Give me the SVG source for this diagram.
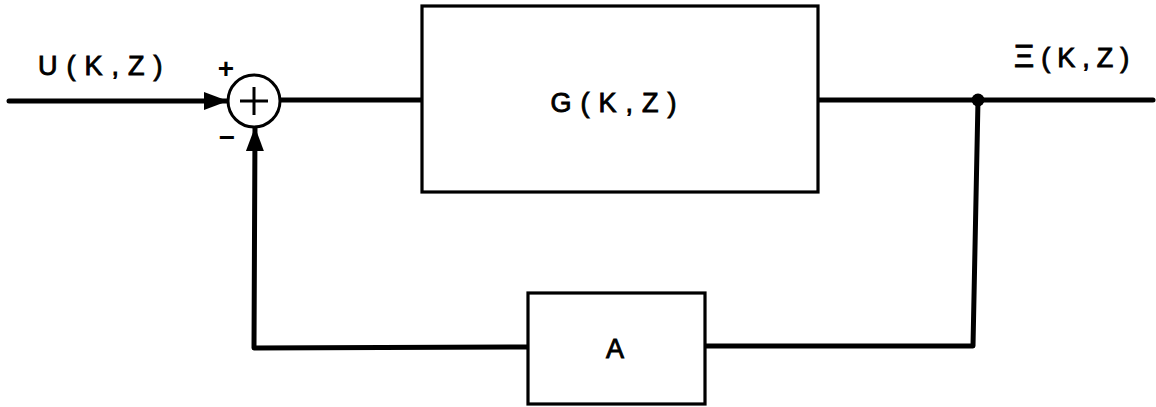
<svg xmlns="http://www.w3.org/2000/svg" width="1156" height="407" viewBox="0 0 1156 407">
  <style>
    .wire { fill: none; stroke: #000; stroke-width: 5; stroke-linejoin: round; stroke-linecap: round; }
    .box { fill: #fff; stroke: #000; stroke-width: 3.2; }
    .lbl { font-family: "Liberation Sans", "DejaVu Sans", sans-serif; font-size: 27px; fill: #000; stroke: #000; stroke-width: 0.9; }
    .sign { font-family: "Liberation Sans", "DejaVu Sans", sans-serif; font-size: 28px; font-weight: bold; fill: #000; }
  </style>
  <defs>
    <marker id="arrow" viewBox="0 0 24 18" refX="24" refY="9" markerWidth="24" markerHeight="18" markerUnits="userSpaceOnUse" orient="auto">
      <path d="M0,0 L24,9 L0,18 Z" fill="#000"/>
    </marker>
  </defs>

  <!-- connectors -->
  <g id="connectors">
    <!-- input U into summing junction -->
    <path class="wire" d="M9,101 L228,101" marker-end="url(#arrow)"/>
    <!-- junction to G -->
    <path class="wire" d="M280,100 L422,100"/>
    <!-- G to output -->
    <path class="wire" d="M818,100 L1153,100"/>
    <!-- pick-off down to feedback -->
    <path class="wire" d="M978,100 L973,346 L705,346"/>
    <!-- A back to junction -->
    <path class="wire" d="M528,347 L254,348 L255,127" marker-end="url(#arrow)"/>
    <circle cx="978" cy="100" r="6.5" fill="#000"/>
  </g>

  <!-- summing junction -->
  <g id="sum">
    <circle cx="254" cy="101" r="26" fill="#fff" stroke="#000" stroke-width="3"/>
    <path d="M240,101 L268,101 M254,87 L254,115" stroke="#000" stroke-width="3" fill="none"/>
    <text class="sign" x="226" y="78" text-anchor="middle">+</text>
    <text class="sign" x="227" y="147" text-anchor="middle">−</text>
  </g>

  <!-- plant G -->
  <g id="plant">
    <rect class="box" x="422" y="6" width="396" height="186"/>
    <text class="lbl" x="618" y="112" text-anchor="middle" letter-spacing="9">G(K,Z)</text>
  </g>

  <!-- feedback A -->
  <g id="feedback">
    <rect class="box" x="528" y="293" width="177" height="111"/>
    <text class="lbl" x="615" y="358" text-anchor="middle">A</text>
  </g>

  <!-- signal labels -->
  <g id="labels">
    <text class="lbl" x="38" y="75" letter-spacing="9">U(K,Z)</text>
    <text class="lbl" x="1014" y="67" letter-spacing="7"><tspan font-size="31px">Ξ</tspan>(K,Z)</text>
  </g>
</svg>
